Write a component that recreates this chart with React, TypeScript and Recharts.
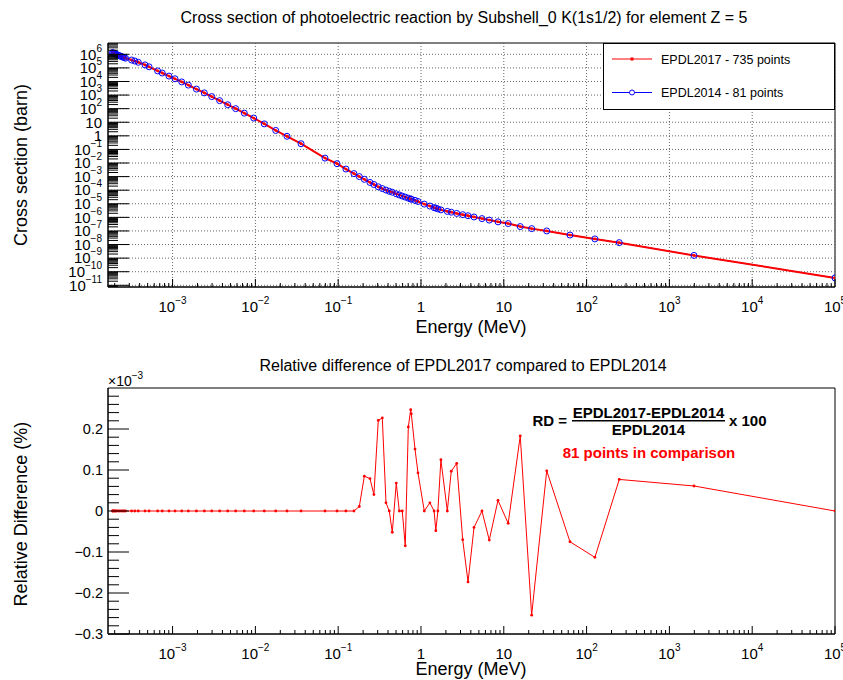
import React from 'react';
import { LineChart, Line, XAxis, YAxis, ReferenceLine, ReferenceArea } from 'recharts';

// energies (MeV) of the 81 compared points
const energy = [
  1.88e-4, 1.9e-4, 1.95e-4, 2.0e-4, 2.05e-4, 2.1e-4, 2.2e-4, 2.3e-4, 2.4e-4, 2.5e-4,
  2.6e-4, 2.7e-4, 3.2e-4, 3.5e-4, 3.85e-4, 4.65e-4, 5.2e-4, 6.6e-4, 7.5e-4, 9.05e-4,
  1.07e-3, 1.29e-3, 1.55e-3, 1.94e-3, 2.42e-3, 2.97e-3, 3.7e-3, 4.63e-3, 5.78e-3, 7.35e-3,
  9.55e-3, 1.28e-2, 1.76e-2, 2.41e-2, 3.56e-2, 6.93e-2, 9.68e-2, 0.124, 0.155, 0.18,
  0.207, 0.242, 0.27, 0.305, 0.341, 0.378, 0.414, 0.45, 0.503, 0.547,
  0.594, 0.646, 0.703, 0.751, 0.764, 0.847, 0.92, 1.096, 1.28, 1.44,
  1.51, 1.6, 1.74, 2.08, 2.32, 2.7, 3.19, 3.7, 4.37, 5.45,
  6.68, 8.51, 11.3, 15.8, 21.7, 33, 63, 126, 248, 1982,
  1e5,
];

// cross section (barn)
const crossSection = [
  1.32e6, 1.29e6, 1.2e6, 1.12e6, 1.05e6, 9.8e5, 8.7e5, 7.8e5, 6.9e5, 6.3e5,
  5.8e5, 5.2e5, 3.8e5, 3.2e5, 2.6e5, 1.66e5, 1.2e5, 6.0e4, 4.2e4, 2.5e4,
  1.58e4, 9.3e3, 5.4e3, 2.75e3, 1.45e3, 776, 389, 195, 100, 46.8,
  20.4, 7.6, 2.5, 0.93, 0.263, 0.0229, 8.9e-3, 3.6e-3, 1.66e-3, 1.0e-3,
  6.3e-4, 3.7e-4, 2.63e-4, 1.78e-4, 1.32e-4, 1.02e-4, 8.3e-5, 7.1e-5, 5.4e-5, 4.5e-5,
  3.7e-5, 3.1e-5, 2.57e-5, 2.24e-5, 2.19e-5, 1.78e-5, 1.48e-5, 9.5e-6, 6.8e-6, 5.2e-6,
  4.8e-6, 4.2e-6, 3.55e-6, 2.75e-6, 2.4e-6, 1.95e-6, 1.58e-6, 1.32e-6, 1.07e-6, 8.1e-7,
  6.3e-7, 4.7e-7, 3.5e-7, 2.1e-7, 1.48e-7, 1.0e-7, 5.0e-8, 2.6e-8, 1.38e-8, 1.58e-9,
  3.5e-11,
];

// relative difference (x1e-3 %)
const relDiff = [
  0, 0, 0, 0, 0, 0, 0, 0, 0, 0,
  0, 0, 0, 0, 0, 0, 0, 0, 0, 0,
  0, 0, 0, 0, 0, 0, 0, 0, 0, 0,
  0, 0, 0, 0, 0, 0, 0, 0, 0, 0.011,
  0.085, 0.079, 0.04, 0.221, 0.227, 0.02, 0, -0.052, 0.068, 0,
  0, -0.085, 0.205, 0.247, 0.237, 0.151, 0.093, 0, 0.02, 0,
  -0.048, 0, 0.125, 0, 0.097, 0.116, -0.07, -0.173, -0.04, 0,
  -0.071, 0.026, -0.03, 0.183, -0.254, 0.098, -0.075, -0.113, 0.077, 0.061,
  0,
];

const xMajor = [1e-3, 1e-2, 1e-1, 1, 10, 100, 1e3, 1e4, 1e5];
const yMajor = [1e-11, 1e-10, 1e-9, 1e-8, 1e-7, 1e-6, 1e-5, 1e-4, 1e-3, 1e-2, 1e-1, 1, 10, 100, 1e3, 1e4, 1e5, 1e6];
const rdMajor = [-0.3, -0.2, -0.1, 0, 0.1, 0.2];

const xDomain: [number, number] = [1.66e-4, 1e5];
const yDomain: [number, number] = [7.5e-12, 6.8e6];
const rdDomain: [number, number] = [-0.3, 0.3];

const FONT = '"Liberation Sans", Arial, Helvetica, sans-serif';

const logMinors = (lo: number, hi: number, dom: [number, number]) => {
  const out: number[] = [];
  for (let e = lo; e < hi; e++) for (let m = 2; m < 10; m++) {
    const v = m * Math.pow(10, e);
    if (v > dom[0] && v < dom[1]) out.push(v);
  }
  return out;
};
const xTicks = [...xMajor, ...logMinors(-4, 5, xDomain)].sort((a, b) => a - b);
const yTicks = [...yMajor, ...logMinors(-12, 7, yDomain)].sort((a, b) => a - b);
const rdTicks: number[] = [];
for (let i = -15; i <= 14; i++) rdTicks.push(Math.round(i * 2) / 100);

const isDecade = (v: number) => Math.abs(Math.log10(v) - Math.round(Math.log10(v))) < 1e-6;

const PowLabel = ({ v }: { v: number }) => {
  const e = Math.round(Math.log10(v));
  if (e === 0) return <tspan>1</tspan>;
  if (e === 1) return <tspan>10</tspan>;
  return (
    <>
      <tspan>10</tspan>
      <tspan dy={-8} fontSize={10}>{e < 0 ? '\u2212' + -e : String(e)}</tspan>
    </>
  );
};

const XLogTick = (props: any) => {
  const { x, y, payload } = props;
  const major = isDecade(payload.value);
  return (
    <g>
      <line x1={x} x2={x} y1={y} y2={y - (major ? 8 : 4)} stroke="#000" />
      {major && (
        <text x={x} y={y + 24.5} textAnchor="middle" fontSize={15} fontFamily={FONT} fill="#000">
          <PowLabel v={payload.value} />
        </text>
      )}
    </g>
  );
};

const YLogTick = (props: any) => {
  const { x, y, payload } = props;
  const major = isDecade(payload.value);
  return (
    <g>
      <line x1={x} x2={x + (major ? 21 : 10)} y1={y} y2={y} stroke="#000" />
      {major && (
        <text x={x - 6} y={y + 5.3} textAnchor="end" fontSize={15} fontFamily={FONT} fill="#000">
          <PowLabel v={payload.value} />
        </text>
      )}
    </g>
  );
};

const YLinTick = (props: any) => {
  const { x, y, payload } = props;
  const v = payload.value;
  const major = rdMajor.some((m) => Math.abs(m - v) < 1e-9);
  const label = v === 0 ? '0' : (v < 0 ? '\u2212' : '') + Math.abs(v).toFixed(1);
  return (
    <g>
      <line x1={x} x2={x + (major ? 21 : 11)} y1={y} y2={y} stroke="#000" />
      {major && (
        <text x={x - 5} y={y + 5.2} textAnchor="end" fontSize={14.5} fontFamily={FONT} fill="#000">
          {label}
        </text>
      )}
    </g>
  );
};

const rows = energy.map((e, i) => ({ energy: e, sigma: crossSection[i], rd: relDiff[i] }));

const W = 843;

export default function App() {
  return (
    <div style={{ position: 'absolute', left: 0, top: 0, width: W, height: 680, background: '#fff', fontFamily: FONT }}>
      <div style={{ position: 'absolute', left: 0, top: 0 }}>
        <LineChart width={W} height={340} data={rows} margin={{ top: 43, right: 8, left: 0, bottom: 0 }}>
          <XAxis dataKey="energy" type="number" scale="log" domain={xDomain} allowDataOverflow ticks={xTicks}
            interval={0} tickSize={0} tickMargin={0} tick={<XLogTick />} tickLine={false} height={53}
            axisLine={{ stroke: '#000' }} />
          <YAxis type="number" scale="log" domain={yDomain} allowDataOverflow ticks={yTicks}
            interval={0} tickSize={0} tickMargin={0} tick={<YLogTick />} tickLine={false} width={108}
            axisLine={{ stroke: '#000' }} />
          {xMajor.map((v) => (
            <ReferenceLine key={'gx' + v} x={v} stroke="#666" strokeDasharray="1 2" />
          ))}
          {yMajor.map((v) => (
            <ReferenceLine key={'gy' + v} y={v} stroke="#666" strokeDasharray="1 2" />
          ))}
          <ReferenceArea x1={xDomain[0]} x2={xDomain[1]} y1={yDomain[0]} y2={yDomain[1]}
            fill="none" stroke="#000" strokeOpacity={1} fillOpacity={0} />
          <Line dataKey="sigma" stroke="#0000ff" strokeWidth={1} dot={false} isAnimationActive={false} />
          <Line dataKey="sigma" stroke="#ff0000" strokeWidth={2}
            dot={{ r: 1.4, fill: '#ff0000', stroke: 'none' }} isAnimationActive={false} />
          <Line dataKey="sigma" stroke="none" strokeWidth={0}
            dot={{ r: 3, fill: 'none', stroke: '#0000ff', strokeWidth: 1 }} isAnimationActive={false} />
        </LineChart>
      </div>
      <div style={{ position: 'absolute', left: 0, top: 340 }}>
        <LineChart width={W} height={340} data={rows} margin={{ top: 48, right: 8, left: 0, bottom: 0 }}>
          <XAxis dataKey="energy" type="number" scale="log" domain={xDomain} allowDataOverflow ticks={xTicks}
            interval={0} tickSize={0} tickMargin={0} tick={<XLogTick />} tickLine={false} height={46}
            axisLine={{ stroke: '#000' }} />
          <YAxis type="number" domain={rdDomain} allowDataOverflow ticks={rdTicks}
            interval={0} tickSize={0} tickMargin={0} tick={<YLinTick />} tickLine={false} width={108}
            axisLine={{ stroke: '#000' }} />
          <ReferenceArea x1={xDomain[0]} x2={xDomain[1]} y1={rdDomain[0]} y2={rdDomain[1]}
            fill="none" stroke="#000" strokeOpacity={1} fillOpacity={0} />
          <Line dataKey="rd" stroke="#ff0000" strokeWidth={1}
            dot={{ r: 1.4, fill: '#ff0000', stroke: 'none' }} isAnimationActive={false} />
        </LineChart>
      </div>
      <svg width={W} height={680} style={{ position: 'absolute', left: 0, top: 0, pointerEvents: 'none' }}
        fontFamily={FONT}>
        <text x={464} y={23} textAnchor="middle" fontSize={16}>
          Cross section of photoelectric reaction by Subshell_0 K(1s1/2) for element Z = 5
        </text>
        <text x={471} y={333} textAnchor="middle" fontSize={18}>Energy (MeV)</text>
        <text transform="rotate(-90)" x={-165} y={27} textAnchor="middle" fontSize={18}>Cross section (barn)</text>

        <rect x={603.5} y={43.5} width={231} height={66} fill="#fff" stroke="#000" />
        <line x1={612} x2={652} y1={59} y2={59} stroke="#ff0000" />
        <rect x={630.5} y={57.5} width={3} height={3} fill="#ff0000" />
        <text x={661} y={63.5} fontSize={12.5}>EPDL2017 - 735 points</text>
        <line x1={612} x2={652} y1={92.5} y2={92.5} stroke="#0000ff" />
        <circle cx={632} cy={92.5} r={2.5} fill="#fff" stroke="#0000ff" />
        <text x={661} y={97} fontSize={12.5}>EPDL2014 - 81 points</text>

        <text x={463} y={371} textAnchor="middle" fontSize={16}>
          Relative difference of EPDL2017 compared to EPDL2014
        </text>
        <text x={108} y={386} fontSize={14}>
          <tspan>{'\u00d710'}</tspan>
          <tspan dy={-7} fontSize={10}>{'\u22123'}</tspan>
        </text>
        <text x={471} y={675} textAnchor="middle" fontSize={18}>Energy (MeV)</text>
        <text transform="rotate(-90)" x={-514} y={27} textAnchor="middle" fontSize={18}>Relative Difference (%)</text>

        <text x={567} y={425.5} textAnchor="end" fontSize={15} fontWeight="bold">RD =</text>
        <text x={648.5} y={418} textAnchor="middle" fontSize={15} fontWeight="bold">EPDL2017-EPDL2014</text>
        <line x1={572} x2={725} y1={420.7} y2={420.7} stroke="#000" strokeWidth={1.5} />
        <text x={648.5} y={435} textAnchor="middle" fontSize={15} fontWeight="bold">EPDL2014</text>
        <text x={729} y={425.5} fontSize={15} fontWeight="bold">x 100</text>
        <text x={649} y={457.5} textAnchor="middle" fontSize={15} fontWeight="bold" fill="#ff0000">
          81 points in comparison
        </text>
      </svg>
    </div>
  );
}
